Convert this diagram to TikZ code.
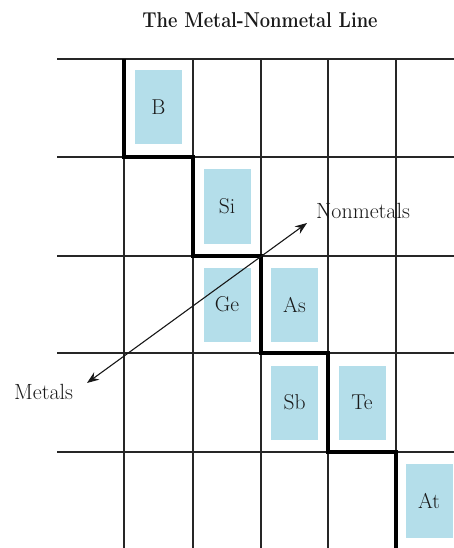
\documentclass[tikz,border=0pt]{standalone}
\usetikzlibrary{arrows.meta}
\definecolor{elemblue}{HTML}{B4DEEA}
\tikzset{
  elem/.style={fill=elemblue, minimum width=47pt, minimum height=74pt, inner sep=0pt,
    font=\fontsize{21.5}{24}\selectfont, text=black!90},
  gridline/.style={line width=1.2pt, black!85},
  boundary/.style={line width=4.5pt, line join=miter, black},
  lbl/.style={font=\fontsize{22}{26}\selectfont, text=black!90, inner sep=0pt},
  dirarrow/.style={line width=1.1pt, black!90, {Stealth[length=12pt,width=9pt]}-{Stealth[length=12pt,width=9pt]}}
}
\begin{document}
\begin{tikzpicture}[x=1pt,y=-1pt]
\useasboundingbox (0,0) rectangle (454,548);
% title
\node[inner sep=0pt, text=black!90] (title) at (260,20)
  {\scalebox{0.85}[1]{\fontsize{21.5}{24}\selectfont\bfseries The Metal-Nonmetal Line}};
% element boxes
\node[elem] (B)  at (158.5,107) {B};
\node[elem] (Si) at (227,206.5) {Si};
\node[elem] (Ge) at (227,304.5) {Ge};
\node[elem] (As) at (294.5,304.5) {As};
\node[elem] (Sb) at (294.5,402.5) {Sb};
\node[elem] (Te) at (362,402.5) {Te};
\node[elem] (At) at (429,501) {At};
% grid
\foreach \y in {59,157,256,353,452} \draw[gridline] (57,\y) -- (454,\y);
\foreach \x in {124,193,261,328,396} \draw[gridline] (\x,59) -- (\x,548);
% boundary staircase
\draw[boundary] (124,59) -- (124,157) -- (193,157) -- (193,256) -- (261,256)
  -- (261,353) -- (328,353) -- (328,452) -- (396,452) -- (396,548);
% arrow and labels
\node[lbl, anchor=west] (nonmetals) at (316,211) {Nonmetals};
\node[lbl, anchor=west] (metals) at (14,392) {Metals};
\coordinate (mtip) at (87,383);
\coordinate (ntip) at (307,223);
\draw[dirarrow] (mtip) -- (ntip);
\end{tikzpicture}
\end{document}
